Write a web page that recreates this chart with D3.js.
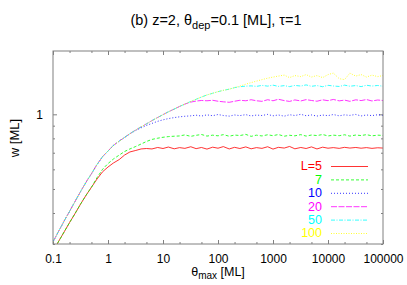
<!DOCTYPE html>
<html>
<head>
<meta charset="utf-8">
<script src="https://cdn.jsdelivr.net/npm/d3@7"></script>
<style>
  body { margin: 0; background: #fff; }
  svg { display: block; font-family: "Liberation Sans", Arial, Helvetica, sans-serif; }
</style>
</head>
<body>
<div id="chart"></div>
<script>
// theta_max grid [ML]
const thetaMax = [
  0.1, 0.125, 0.16, 0.2, 0.25, 0.32, 0.4, 0.5, 0.63, 0.8,
  1, 1.25, 1.6, 2, 2.5, 3.2, 4, 5, 6.3, 8,
  10, 12.5, 16, 20, 25, 32, 40, 50, 63, 80,
  100, 125, 160, 200, 250, 320, 400, 500, 630, 800,
  1000, 1250, 1600, 2000, 2500, 3200, 4000, 5000, 6300, 8000,
  10000, 12500, 16000, 20000, 25000, 32000, 40000, 50000, 63000, 80000,
  100000
];

// w [ML] for each system size L
const wL5 = [
  0.278, 0.306, 0.336, 0.366, 0.397, 0.436, 0.472, 0.508, 0.548, 0.587,
  0.613, 0.636, 0.657, 0.685, 0.705, 0.715, 0.725, 0.728, 0.725, 0.735,
  0.728, 0.738, 0.726, 0.734, 0.729, 0.740, 0.727, 0.735, 0.724, 0.737,
  0.730, 0.741, 0.725, 0.736, 0.728, 0.739, 0.726, 0.734, 0.729, 0.740,
  0.724, 0.736, 0.731, 0.742, 0.726, 0.735, 0.728, 0.739, 0.725, 0.737,
  0.730, 0.734, 0.729, 0.736, 0.731, 0.735, 0.730, 0.734, 0.729, 0.733,
  0.731
];
const wL7 = [
  0.278, 0.306, 0.336, 0.366, 0.397, 0.436, 0.472, 0.508, 0.555, 0.601,
  0.633, 0.660, 0.685, 0.708, 0.725, 0.742, 0.759, 0.777, 0.792, 0.801,
  0.808, 0.813, 0.816, 0.818, 0.826, 0.815, 0.823, 0.829, 0.817, 0.824,
  0.819, 0.828, 0.816, 0.825, 0.821, 0.830, 0.815, 0.824, 0.818, 0.827,
  0.820, 0.829, 0.816, 0.823, 0.819, 0.828, 0.817, 0.825, 0.821, 0.829,
  0.818, 0.824, 0.820, 0.827, 0.817, 0.825, 0.821, 0.828, 0.819, 0.824,
  0.822
];
const wL10 = [
  0.306, 0.336, 0.372, 0.406, 0.444, 0.490, 0.533, 0.576, 0.627, 0.676,
  0.711, 0.749, 0.780, 0.807, 0.835, 0.861, 0.882, 0.902, 0.919, 0.937,
  0.950, 0.961, 0.970, 0.977, 0.982, 0.986, 0.992, 0.984, 0.995, 0.987,
  0.998, 0.989, 0.983, 0.994, 0.988, 0.997, 0.985, 0.993, 0.989, 0.999,
  0.986, 0.994, 0.983, 0.996, 0.989, 1.000, 0.987, 0.994, 0.984, 0.993,
  0.988, 0.998, 0.986, 0.995, 0.990, 0.999, 0.985, 0.994, 0.988, 0.996,
  0.991
];
const wL20 = [
  0.306, 0.336, 0.372, 0.406, 0.444, 0.490, 0.533, 0.576, 0.627, 0.676,
  0.711, 0.749, 0.780, 0.807, 0.835, 0.865, 0.890, 0.915, 0.943, 0.971,
  0.997, 1.023, 1.050, 1.076, 1.100, 1.120, 1.131, 1.137, 1.134, 1.139,
  1.129, 1.123, 1.118, 1.129, 1.139, 1.134, 1.145, 1.134, 1.128, 1.145,
  1.134, 1.150, 1.136, 1.127, 1.143, 1.132, 1.146, 1.137, 1.129, 1.144,
  1.135, 1.148, 1.133, 1.141, 1.128, 1.144, 1.136, 1.147, 1.132, 1.142,
  1.137
];
const wL50 = [
  0.306, 0.336, 0.372, 0.406, 0.444, 0.490, 0.533, 0.576, 0.627, 0.676,
  0.711, 0.749, 0.780, 0.807, 0.835, 0.865, 0.890, 0.915, 0.943, 0.971,
  0.997, 1.023, 1.050, 1.076, 1.100, 1.127, 1.150, 1.174, 1.197, 1.216,
  1.234, 1.249, 1.263, 1.281, 1.292, 1.299, 1.302, 1.296, 1.308, 1.299,
  1.311, 1.296, 1.305, 1.293, 1.308, 1.300, 1.314, 1.297, 1.306, 1.292,
  1.309, 1.301, 1.295, 1.311, 1.298, 1.306, 1.293, 1.310, 1.300, 1.307,
  1.298
];
const wL100 = [
  0.306, 0.336, 0.372, 0.406, 0.444, 0.490, 0.533, 0.576, 0.627, 0.676,
  0.711, 0.749, 0.780, 0.807, 0.835, 0.865, 0.890, 0.915, 0.943, 0.971,
  0.997, 1.023, 1.050, 1.076, 1.100, 1.127, 1.150, 1.174, 1.197, 1.216,
  1.234, 1.249, 1.263, 1.281, 1.299, 1.323, 1.342, 1.361, 1.380, 1.399,
  1.413, 1.426, 1.439, 1.406, 1.433, 1.419, 1.446, 1.413, 1.433, 1.406,
  1.446, 1.466, 1.392, 1.380, 1.466, 1.426, 1.446, 1.413, 1.439, 1.419,
  1.433
];

const seriesLabels = ["L=5", "7", "10", "20", "50", "100"];
const seriesValues = [wL5, wL7, wL10, wL20, wL50, wL100];
const seriesColors = ["#ff0000", "#00ff00", "#0000ff", "#ff00ff", "#00ffff", "#ffff00"];
const seriesDash = [null, "3,2", "1,2", "6,1.5", "4,1.5,1,1.5", "1,1.5"];

const xMajorTicks = [0.1, 1, 10, 100, 1000, 10000, 100000];
const xMinorTicks = [0.2, 0.5, 2, 5, 20, 50, 200, 500, 2000, 5000, 20000, 50000];
const yMajorTicks = [1];
const yMinorTicks = [0.3, 0.4, 0.5, 0.6, 0.7, 0.8, 0.9];

const width = 407, height = 285;
const margin = {top: 51, right: 24, bottom: 41, left: 53};

const svg = d3.select("#chart").append("svg")
    .attr("width", width)
    .attr("height", height);

const x = d3.scaleLog().domain([0.1, 100000]).range([margin.left, width - margin.right]);
const y = d3.scaleLog().domain([0.3, 1.8]).range([height - margin.bottom, margin.top]);

const x0 = margin.left, x1 = width - margin.right;
const y0 = height - margin.bottom, y1 = margin.top;

svg.append("clipPath").attr("id", "plot-clip")
  .append("rect")
    .attr("x", x0).attr("y", y1)
    .attr("width", x1 - x0).attr("height", y0 - y1);

// ticks on all four sides, pointing inward
function styleAxis(g) {
    g.select(".domain").remove();
    g.selectAll(".tick line").attr("stroke", "#808080");
    g.selectAll(".tick text").attr("fill", "#000").style("font-size", "12px");
}

svg.append("g").attr("transform", `translate(0,${y0})`)
    .call(d3.axisBottom(x).tickValues(xMajorTicks).tickSize(-4).tickPadding(10).tickFormat(d => String(d)))
    .call(styleAxis);
svg.append("g").attr("transform", `translate(0,${y0})`)
    .call(d3.axisBottom(x).tickValues(xMinorTicks).tickSize(-2).tickFormat(""))
    .call(styleAxis);
svg.append("g").attr("transform", `translate(0,${y1})`)
    .call(d3.axisTop(x).tickValues(xMajorTicks).tickSize(-4).tickFormat(""))
    .call(styleAxis);
svg.append("g").attr("transform", `translate(0,${y1})`)
    .call(d3.axisTop(x).tickValues(xMinorTicks).tickSize(-2).tickFormat(""))
    .call(styleAxis);

svg.append("g").attr("transform", `translate(${x0},0)`)
    .call(d3.axisLeft(y).tickValues(yMajorTicks).tickSize(-4).tickPadding(10).tickFormat(d => String(d)))
    .call(styleAxis);
svg.append("g").attr("transform", `translate(${x0},0)`)
    .call(d3.axisLeft(y).tickValues(yMinorTicks).tickSize(-2).tickFormat(""))
    .call(styleAxis);
svg.append("g").attr("transform", `translate(${x1},0)`)
    .call(d3.axisRight(y).tickValues(yMajorTicks).tickSize(-4).tickFormat(""))
    .call(styleAxis);
svg.append("g").attr("transform", `translate(${x1},0)`)
    .call(d3.axisRight(y).tickValues(yMinorTicks).tickSize(-2).tickFormat(""))
    .call(styleAxis);

// curves
const line = d3.line()
    .x((d, i) => x(thetaMax[i]))
    .y(d => y(d));

const curves = svg.append("g").attr("clip-path", "url(#plot-clip)");
seriesValues.forEach((vals, k) => {
    curves.append("path")
        .datum(vals)
        .attr("fill", "none")
        .attr("stroke", seriesColors[k])
        .attr("stroke-width", 0.8)
        .attr("stroke-dasharray", seriesDash[k])
        .attr("d", line);
});

// frame
svg.append("rect")
    .attr("x", x0).attr("y", y1)
    .attr("width", x1 - x0).attr("height", y0 - y1)
    .attr("fill", "none")
    .attr("stroke", "#808080")
    .attr("stroke-width", 1);

// legend
const legend = svg.append("g").style("font-size", "12.5px");
seriesLabels.forEach((lab, k) => {
    const ly = 166 + k * 13.4;
    legend.append("text")
        .attr("x", 322).attr("y", ly)
        .attr("dy", "0.35em")
        .attr("text-anchor", "end")
        .attr("fill", seriesColors[k])
        .text(lab);
    legend.append("line")
        .attr("x1", 331).attr("x2", 368)
        .attr("y1", ly + 0.5).attr("y2", ly + 0.5)
        .attr("stroke", seriesColors[k])
        .attr("stroke-width", 0.8)
        .attr("stroke-dasharray", seriesDash[k]);
});

// title
const title = svg.append("text")
    .attr("x", 216).attr("y", 25)
    .attr("text-anchor", "middle")
    .style("font-size", "14.5px");
title.append("tspan").text("(b) z=2, \u03b8");
title.append("tspan").attr("dy", 3.5).style("font-size", "11px").text("dep");
title.append("tspan").attr("dy", -3.5).text("=0.1 [ML], \u03c4=1");

// axis labels
const xLabel = svg.append("text")
    .attr("x", (x0 + x1) / 2).attr("y", 276)
    .attr("text-anchor", "middle")
    .style("font-size", "12.5px");
xLabel.append("tspan").text("\u03b8");
xLabel.append("tspan").attr("dy", 3).style("font-size", "10px").text("max");
xLabel.append("tspan").attr("dy", -3).text(" [ML]");

svg.append("text")
    .attr("transform", "translate(19,138) rotate(-90)")
    .attr("text-anchor", "middle")
    .style("font-size", "13px")
    .text("w [ML]");
</script>
</body>
</html>
